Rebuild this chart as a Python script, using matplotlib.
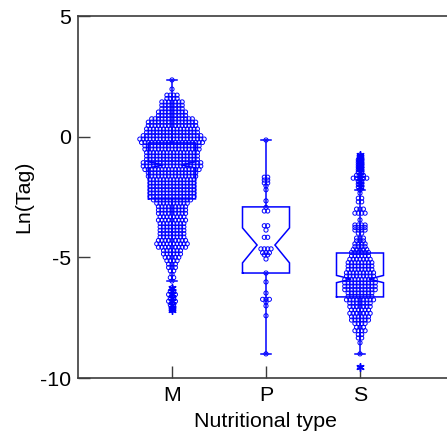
import numpy as np
import matplotlib
matplotlib.use("Agg")
import matplotlib.pyplot as plt

plt.rcParams['font.family'] = ['Liberation Sans', 'DejaVu Sans']
plt.rcParams['axes.unicode_minus'] = False

categories = ["M", "P", "S"]
positions = [1, 2, 3]

# Dot-density rows: value of each row and number of observations stacked on it
m_levels = [2.35, 1.97, 1.72, 1.58, 1.44, 1.30, 1.16, 1.02, 0.88, 0.74, 0.60, 0.46,
            0.32, 0.18, 0.04, -0.10, -0.24, -0.38, -0.52, -0.66, -0.80, -0.94,
            -1.08, -1.22, -1.36, -1.50, -1.64, -1.78, -1.92, -2.06, -2.20, -2.34,
            -2.48, -2.62, -2.76, -2.90, -3.04, -3.18, -3.32, -3.46, -3.60, -3.74,
            -3.88, -4.02, -4.16, -4.30, -4.44, -4.58, -4.72, -4.86, -5.00, -5.14,
            -5.28, -5.42, -5.56, -5.70, -5.84, -5.98, -6.26, -6.40, -6.54, -6.68,
            -6.82, -6.96, -7.10, -7.20]
m_counts = [1, 1, 4, 4, 7, 7, 7, 9, 9, 13, 15, 15,
            16, 16, 18, 20, 19, 17, 17, 16, 16, 16,
            18, 18, 17, 15, 15, 14, 14, 14, 14, 14,
            14, 12, 10, 9, 9, 9, 8, 9, 8, 8,
            8, 8, 8, 9, 10, 9, 6, 6, 5, 4,
            3, 3, 2, 1, 2, 1, 1, 2, 3, 2,
            3, 2, 1, 1]

p_levels = [-0.14, -1.68, -1.80, -1.92, -2.04, -2.20, -2.66, -2.93, -3.08, -3.69,
            -3.87, -4.17, -4.65, -4.81, -4.90, -5.07, -5.65, -6.02, -6.48, -6.74,
            -6.85, -7.01, -7.42, -9.00]
p_counts = [1, 2, 2, 2, 1, 1, 1, 1, 2, 2,
            1, 2, 4, 3, 2, 1, 1, 1, 1, 3,
            1, 1, 1, 1]

s_levels = [-0.76, -0.86, -0.96, -1.06, -1.16, -1.26, -1.36, -1.46, -1.60, -1.72,
            -1.84, -1.96, -2.08, -2.22, -2.34, -2.55, -2.70, -3.00, -3.17, -3.45,
            -3.66, -3.76, -3.87, -4.00, -4.20, -4.32, -4.44, -4.56, -4.68, -4.80,
            -4.94, -5.08, -5.22, -5.36, -5.50, -5.64, -5.78, -5.92, -6.06, -6.20,
            -6.34, -6.48, -6.62, -6.76, -6.90, -7.04, -7.18, -7.32, -7.46, -7.60,
            -7.74, -7.90, -8.04, -8.20, -8.34, -8.54, -9.00, -9.55]
s_counts = [1, 1, 2, 2, 2, 2, 2, 2, 3, 5,
            2, 2, 2, 1, 1, 2, 2, 3, 4, 1,
            4, 4, 4, 2, 3, 3, 4, 4, 5, 6,
            6, 7, 8, 8, 8, 9, 9, 10, 10, 10,
            10, 8, 8, 9, 7, 7, 6, 7, 6, 6,
            4, 3, 4, 2, 2, 1, 1, 1]

# Box-plot summary per category
box_q1 = [-2.58, -5.65, -6.64]
box_med = [-1.17, -4.49, -5.90]
box_q3 = [-0.26, -2.91, -4.82]
notch_lo = [-1.30, -5.23, -6.05]
notch_hi = [-1.04, -3.78, -5.75]
whisker_lo = [-5.98, -9.00, -9.00]
whisker_hi = [2.35, -0.14, -2.22]

BLUE = '#0000ff'
AXIS_GREY = '#3c3c3c'
BOX_W = 0.50
WAIST_W = 0.19
CAP_W = 0.11
DOT_DX = 0.036

fig = plt.figure(figsize=(4.47, 4.40), dpi=100)
ax = fig.add_axes([78 / 447, 62 / 440, 376 / 447, 362 / 440])

groups = [(m_levels, m_counts), (p_levels, p_counts), (s_levels, s_counts)]

for i, pos in enumerate(positions):
    levels, counts = groups[i]
    xs, ys = [], []
    for lv, c in zip(levels, counts):
        off = (np.arange(c) - (c - 1) / 2) * DOT_DX
        xs.extend(pos + off)
        ys.extend([lv] * c)
    ax.scatter(xs, ys, s=9, facecolors='none', edgecolors=BLUE,
               linewidths=0.7, zorder=2)

    # notched box outline
    hw, ww = BOX_W / 2, WAIST_W / 2
    q1, med, q3 = box_q1[i], box_med[i], box_q3[i]
    lo, hi = notch_lo[i], notch_hi[i]
    bx = [pos - hw, pos - hw, pos - ww, pos - hw, pos - hw,
          pos + hw, pos + hw, pos + ww, pos + hw, pos + hw, pos - hw]
    by = [q1, lo, med, hi, q3, q3, hi, med, lo, q1, q1]
    ax.plot(bx, by, color=BLUE, lw=1.1, zorder=3, solid_joinstyle='miter')

    # whiskers and caps
    wlo, whi = whisker_lo[i], whisker_hi[i]
    ax.plot([pos, pos], [q3, whi], color=BLUE, lw=1.1, zorder=3)
    ax.plot([pos, pos], [q1, wlo], color=BLUE, lw=1.1, zorder=3)
    ax.plot([pos - CAP_W / 2, pos + CAP_W / 2], [whi, whi], color=BLUE, lw=1.1, zorder=3)
    ax.plot([pos - CAP_W / 2, pos + CAP_W / 2], [wlo, wlo], color=BLUE, lw=1.1, zorder=3)

    # outside values
    lv = np.array(levels)
    fliers = lv[(lv > whi) | (lv < wlo)]
    ax.plot(np.full(len(fliers), pos), fliers, linestyle='none',
            marker=(6, 2, 0), ms=6, mec=BLUE, mew=1.0, zorder=4)

ax.set_xlim(0, 4)
ax.set_ylim(-10, 5)
ax.set_yticks([-10, -5, 0, 5])
ax.set_xticks(positions)
ax.set_xticklabels(categories)

ax.tick_params(axis='both', direction='in', length=8.5, width=1.0,
               color=AXIS_GREY, labelsize=15.4, labelcolor='black')
ax.tick_params(axis='y', pad=5)
ax.tick_params(axis='x', pad=6)
for sp in ax.spines.values():
    sp.set_color(AXIS_GREY)
    sp.set_linewidth(1.2)

ax.set_xlabel('Nutritional type', fontsize=15.4, labelpad=5)
ax.set_ylabel('Ln(Tag)', fontsize=15.4, labelpad=5)

fig.savefig('out.png', dpi=100)
